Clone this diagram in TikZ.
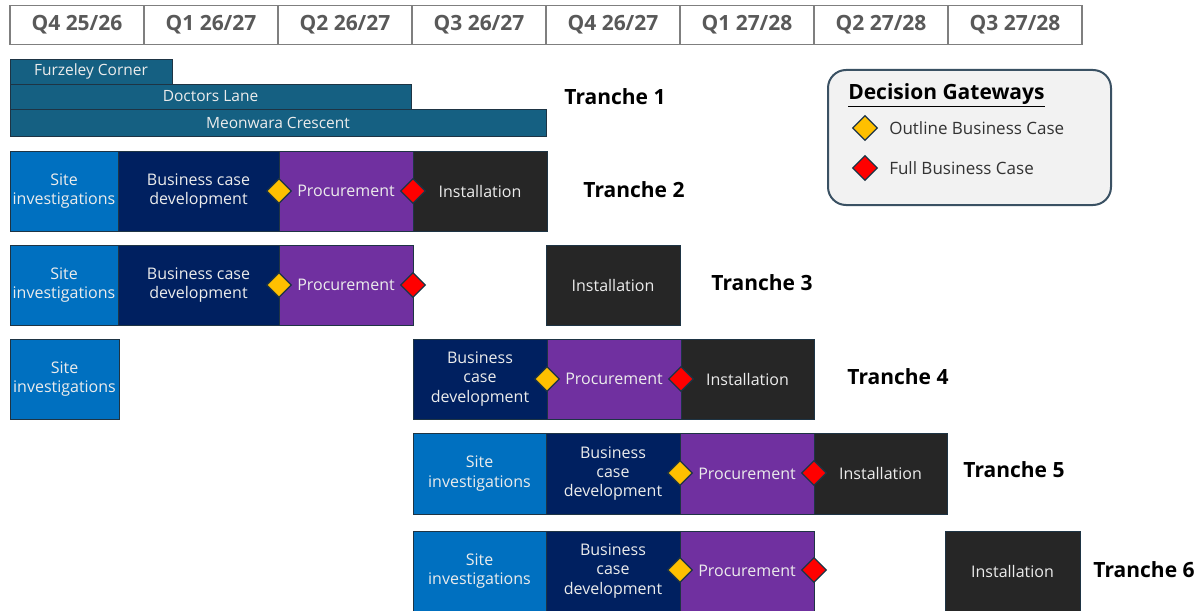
\documentclass[tikz,border=0pt]{standalone}
\usepackage{fontspec}
\setmainfont{Open Sans}
\usetikzlibrary{shapes.geometric}
\definecolor{sitec}{HTML}{0070C0}
\definecolor{bcdc}{HTML}{002060}
\definecolor{procc}{HTML}{7030A0}
\definecolor{instc}{HTML}{262626}
\definecolor{tonec}{HTML}{156082}
\definecolor{edgec}{HTML}{1E3444}
\definecolor{hdrtext}{HTML}{595959}
\definecolor{hdrline}{HTML}{7F7F7F}
\definecolor{boxtext}{HTML}{ECECEC}
\definecolor{legfill}{HTML}{F2F2F2}
\definecolor{legline}{HTML}{3A5163}
\definecolor{obc}{HTML}{FFC000}
\definecolor{fbc}{HTML}{FF0000}
\newcommand\px[1]{\fontsize{\dimexpr#1pt*3/4\relax}{\dimexpr#1pt*9/10\relax}\selectfont}
\newcommand\blk[7]{\node[#6, minimum width={(#4-#2)*0.75pt}, minimum height={(#5-#3)*0.75pt}] (#1) at ({(#2+#4)/2},{(#3+#5)/2}) {#7};}
\begin{document}
\begin{tikzpicture}[x=0.75pt,y=-0.75pt,
  base/.style={inner sep=0pt, outer sep=0pt, align=center, text=boxtext, draw=edgec, line width=0.6pt, font=\px{16}},
  sitebox/.style={base, fill=sitec},
  bcdbox/.style={base, fill=bcdc},
  procbox/.style={base, fill=procc},
  instbox/.style={base, fill=instc},
  tonebar/.style={base, fill=tonec, draw=edgec, font=\px{15.5}},
  hdr/.style={draw=hdrline, line width=0.8pt, minimum width=134*0.75pt, minimum height=39*0.75pt, inner sep=0pt, outer sep=0pt, text=hdrtext, font=\bfseries\px{21}},
  gate/.style={diamond, draw=edgec, line width=1pt, minimum width=25*0.75pt, minimum height=25*0.75pt, inner sep=0pt, aspect=1},
  obcd/.style={gate, fill=obc},
  fbcd/.style={gate, fill=fbc},
  tlabel/.style={font=\bfseries\px{21}, text=black},
]
\useasboundingbox (0,0) rectangle (1202,610);

% header
\node[hdr] (h1) at (77,25) {Q4 25/26};
\node[hdr] (h2) at (211,25) {Q1 26/27};
\node[hdr] (h3) at (345,25) {Q2 26/27};
\node[hdr] (h4) at (479,25) {Q3 26/27};
\node[hdr] (h5) at (613,25) {Q4 26/27};
\node[hdr] (h6) at (747,25) {Q1 27/28};
\node[hdr] (h7) at (881,25) {Q2 27/28};
\node[hdr] (h8) at (1015,25) {Q3 27/28};

% tranche 1
\blk{fc}{10}{59}{172}{84}{tonebar}{Furzeley Corner}
\blk{dl}{10}{84}{411}{109}{tonebar}{Doctors Lane}
\blk{mc}{10}{109}{546}{136}{tonebar}{Meonwara Crescent}
\node[tlabel] (l1) at (615,97) {Tranche 1};

% tranche 2
\blk{t2s}{10}{151}{118}{231}{sitebox}{Site\\investigations}
\blk{t2b}{118}{151}{279}{231}{bcdbox}{Business case\\development}
\blk{t2p}{279}{151}{413}{231}{procbox}{Procurement}
\blk{t2i}{413}{151}{547}{231}{instbox}{Installation}
\node[obcd] (d2o) at (279,191) {};
\node[fbcd] (d2f) at (413,191) {};
\node[tlabel] (l2) at (634,190) {Tranche 2};

% tranche 3
\blk{t3s}{10}{245}{118}{325}{sitebox}{Site\\investigations}
\blk{t3b}{118}{245}{279}{325}{bcdbox}{Business case\\development}
\blk{t3p}{279}{245}{413}{325}{procbox}{Procurement}
\blk{t3i}{546}{245}{680}{325}{instbox}{Installation}
\node[obcd] (d3o) at (279,285) {};
\node[fbcd] (d3f) at (413,285) {};
\node[tlabel] (l3) at (762,283) {Tranche 3};

% tranche 4
\blk{t4s}{10}{339}{119}{419}{sitebox}{Site\\investigations}
\blk{t4b}{413}{339}{547}{419}{bcdbox}{Business\\case\\development}
\blk{t4p}{547}{339}{681}{419}{procbox}{Procurement}
\blk{t4i}{681}{339}{814}{419}{instbox}{Installation}
\node[obcd] (d4o) at (547,379) {};
\node[fbcd] (d4f) at (681,379) {};
\node[tlabel] (l4) at (898,377) {Tranche 4};

% tranche 5
\blk{t5s}{413}{433}{546}{514}{sitebox}{Site\\investigations}
\blk{t5b}{546}{433}{680}{514}{bcdbox}{Business\\case\\development}
\blk{t5p}{680}{433}{814}{514}{procbox}{Procurement}
\blk{t5i}{814}{433}{947}{514}{instbox}{Installation}
\node[obcd] (d5o) at (680,473) {};
\node[fbcd] (d5f) at (814,473) {};
\node[tlabel] (l5) at (1014,470) {Tranche 5};

% tranche 6
\blk{t6s}{413}{531}{546}{611}{sitebox}{Site\\investigations}
\blk{t6b}{546}{531}{680}{611}{bcdbox}{Business\\case\\development}
\blk{t6p}{680}{531}{814}{611}{procbox}{Procurement}
\blk{t6i}{945}{531}{1080}{611}{instbox}{Installation}
\node[obcd] (d6o) at (680,570) {};
\node[fbcd] (d6f) at (814,570) {};
\node[tlabel] (l6) at (1144,570) {Tranche 6};

% legend
\node[draw=legline, line width=1.5pt, fill=legfill, rounded corners=13.5pt, minimum width=283*0.75pt, minimum height=135*0.75pt, inner sep=0pt] (leg) at (969.5,137.5) {};
\node[anchor=west, inner sep=0pt, font=\bfseries\px{21}] (legt) at (848,95) {\underline{Decision Gateways}};
\node[obcd] (lgo) at (865,128) {};
\node[fbcd] (lgf) at (865,168) {};
\node[anchor=west, inner sep=0pt, font=\px{17}, text=black!80] (lgot) at (889,128) {Outline Business Case};
\node[anchor=west, inner sep=0pt, font=\px{17}, text=black!80] (lgft) at (889,168) {Full Business Case};
\end{tikzpicture}
\end{document}
